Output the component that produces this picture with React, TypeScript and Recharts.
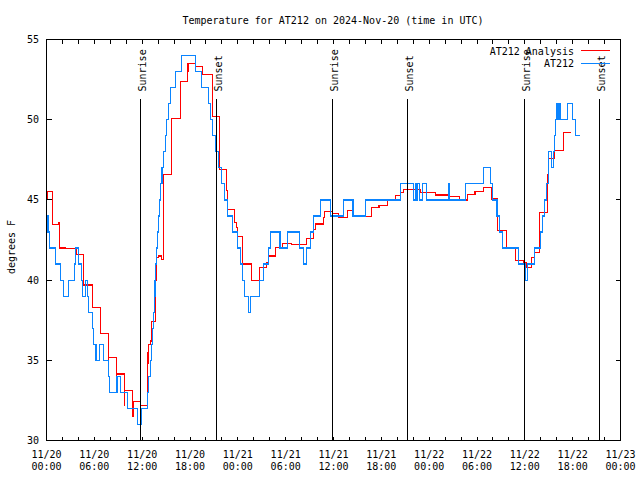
import React from "react";
import {
  LineChart,
  Line,
  XAxis,
  YAxis,
  ReferenceArea,
  ReferenceLine,
  ReferenceDot,
  Legend,
} from "recharts";

// hours since 2024-11-20 00:00 UTC
const anaHours = [
  0, 0.1, 0.72, 1.54, 1.62, 2.38, 3.76, 4.68, 5.73, 6.77, 7.74, 7.78, 8.74, 8.78,
  9.78, 9.82, 10.83, 10.87, 11.79, 11.83, 12.63, 12.72, 12.76, 13.05, 13.17, 13.67,
  13.76, 14.0, 14.38, 14.72, 15.72, 16.78, 17.7, 17.76, 18.69, 19.6, 20.78, 21.74,
  22.58, 22.66, 23.62, 23.8, 24.0, 24.62, 25.69, 26.68, 27.6, 27.81, 28.73, 29.65,
  30.7, 32.61, 33.53, 33.74, 34.7, 34.87, 35.83, 36.67, 37.72, 38.55, 39.8, 40.8,
  41.7, 42.77, 43.78, 44.4, 44.82, 46.9, 48.8, 50.6, 51.8, 52.77, 53.75, 54.82,
  55.8, 56.62, 57.7, 58.83, 59.79, 60.17, 60.8, 61.21, 61.86, 62.8, 62.93, 63.72,
  64.8, 65.82,
];
const anaTemps = [
  45.1, 45.5, 43.45, 43.6, 42.0, 41.95, 41.6, 39.7, 38.3, 36.65, 34.6, 35.15, 33.5, 34.15,
  32.2, 33.1, 31.5, 32.45, 31.5, 32.2, 35.5, 34.8, 36.0, 36.2, 37.4, 40.0,
  41.4, 41.5, 41.3, 46.6, 50.05, 52.4, 53.0, 53.5, 53.3, 52.8, 50.2, 46.9,
  45.6, 44.4, 43.6, 43.3, 42.7, 41.0, 40.0, 40.8, 41.1, 41.5, 42.05, 42.3,
  42.2, 42.6, 43.15, 43.5, 43.9, 44.3, 44.15, 43.9, 44.35, 44.0, 43.95, 44.55,
  44.65, 45.0, 45.25, 45.45, 45.65, 45.45, 45.3, 45.2, 45.0, 45.35, 45.5, 45.75,
  45.05, 43.1, 42.05, 41.2, 41.1, 40.8, 41.4, 41.7, 44.2, 46.6, 47.6, 48.1,
  49.2, 49.2,
];

const obsHours = [
  0, 0.2, 0.42, 1.13, 1.76, 2.17, 2.72, 3.51, 3.68, 4.01, 4.39, 4.56, 4.89, 5.18,
  5.31, 5.73, 5.94, 6.2, 6.62, 7.19, 7.75, 7.94, 8.85, 9.25, 10.2, 11.4, 11.92,
  12.63, 12.8, 13.0, 13.15, 13.3, 13.4, 13.5, 13.6, 13.7, 13.8, 13.9, 14.0, 14.15,
  14.3, 14.5, 14.7, 14.93, 15.1, 15.35, 15.6, 16.15, 16.95, 18.69, 19.44, 20.36,
  20.6, 20.85, 21.2, 21.62, 21.91, 22.33, 22.66, 23.37, 23.92, 24.34, 24.55, 24.8,
  25.38, 25.59, 26.7, 27.2, 27.85, 28.1, 29.3, 30.22, 31.77, 32.27, 32.65, 33.1,
  33.53, 34.37, 35.62, 37.25, 38.45, 39.97, 44.4, 46.0, 46.29, 46.36, 46.58, 46.75,
  47.13, 47.63, 50.47, 50.55, 52.56, 54.85, 55.65, 55.9, 56.5, 56.86, 57.24, 59.17,
  60.05, 60.37, 61.21, 61.97, 62.26, 62.51, 62.72, 62.93, 63.35, 63.64, 63.72, 63.85,
  63.97, 64.1, 64.2, 64.3, 64.4, 64.47, 65.4, 65.94, 66.36, 66.9,
];
const obsTemps = [
  44, 43, 42, 41, 40, 39, 40, 41, 42, 41, 40, 39, 40, 39,
  38, 37, 36, 35, 36, 35, 34, 33, 34, 33, 32, 31, 32,
  33, 34, 35, 36, 37, 38, 39, 40, 41, 42, 43, 44, 45,
  46, 47, 48, 49, 50, 51, 52, 53, 54, 53, 52, 51,
  50, 49, 48, 47, 46, 45, 44, 43, 42, 41, 40, 39,
  38, 39, 40, 41, 42, 43, 42, 43, 42, 41, 42, 43,
  44, 45, 44, 45, 44, 45, 46, 45, 46, 45, 46, 45,
  46, 45, 46, 45, 46, 47, 46, 45, 44, 43, 42, 41,
  40, 41, 42, 43, 44, 45, 46, 48, 47, 48, 49, 50,
  51, 50, 51, 50, 51, 50, 51, 50, 49, 49,
];

const sunHours = [11.83, 21.37, 35.92, 45.33, 60.0, 69.4];
const sunLabels = ["Sunrise", "Sunset", "Sunrise", "Sunset", "Sunrise", "Sunset"];

const xTicks = [
  0, 2, 4, 6, 8, 10, 12, 14, 16, 18, 20, 22, 24, 26, 28, 30, 32, 34, 36,
  38, 40, 42, 44, 46, 48, 50, 52, 54, 56, 58, 60, 62, 64, 66, 68, 70, 72,
];
const labelHours = [0, 6, 12, 18, 24, 30, 36, 42, 48, 54, 60, 66, 72];
const labelDates = [
  "11/20", "11/20", "11/20", "11/20", "11/21", "11/21", "11/21",
  "11/21", "11/22", "11/22", "11/22", "11/22", "11/23",
];
const labelTimes = [
  "00:00", "06:00", "12:00", "18:00", "00:00", "06:00", "12:00",
  "18:00", "00:00", "06:00", "12:00", "18:00", "00:00",
];
const yTicks = [30, 35, 40, 45, 50, 55];
const seriesNames = ["AT212 Analysis", "AT212"];

const FONT = "'DejaVu Sans Mono', monospace";
const TOP = 39.5;
const BOTTOM = 440.5;
const LEFT = 46.5;
const RIGHT = 620.5;

const anaData = anaHours.map((h, i) => ({ h, t: anaTemps[i] }));
const obsData = obsHours.map((h, i) => ({ h, t: obsTemps[i] }));

function XTick(props: any) {
  const { x, payload } = props;
  const i = labelHours.indexOf(payload.value);
  return (
    <g>
      <line x1={x} x2={x} y1={BOTTOM} y2={BOTTOM - 4} stroke="#000" shapeRendering="crispEdges" />
      <line x1={x} x2={x} y1={TOP} y2={TOP + 4} stroke="#000" shapeRendering="crispEdges" />
      {i >= 0 && (
        <text fontFamily={FONT} fontSize={10} fill="#000" textAnchor="middle">
          <tspan x={x} y={458}>{labelDates[i]}</tspan>
          <tspan x={x} y={470}>{labelTimes[i]}</tspan>
        </text>
      )}
    </g>
  );
}

function YTick(props: any) {
  const { y, payload } = props;
  return (
    <g>
      <line x1={LEFT} x2={LEFT + 5} y1={y} y2={y} stroke="#000" shapeRendering="crispEdges" />
      <line x1={RIGHT} x2={RIGHT - 5} y1={y} y2={y} stroke="#000" shapeRendering="crispEdges" />
      <text x={39} y={y + 3.5} fontFamily={FONT} fontSize={10} fill="#000" textAnchor="end">
        {payload.value}
      </text>
    </g>
  );
}

function LegendBox(props: any) {
  const items = [...(props.payload || [])].sort(
    (a: any, b: any) => seriesNames.indexOf(a.value) - seriesNames.indexOf(b.value)
  );
  return (
    <svg width={640} height={80}>
      {items.map((it: any, i: number) => {
        const y = 50.5 + i * 12.5;
        return (
          <g key={it.value}>
            <text x={574} y={y + 4} fontFamily={FONT} fontSize={10} fill="#000" textAnchor="end">
              {it.value}
            </text>
            <line x1={581} x2={610} y1={y} y2={y} stroke={it.color} strokeWidth={1} shapeRendering="crispEdges" />
          </g>
        );
      })}
    </svg>
  );
}

export default function App() {
  return (
    <div style={{ position: "absolute", left: 0, top: 0, width: 640, height: 480, background: "#fff" }}>
      <LineChart width={640} height={480} margin={{ top: TOP, right: 19.5, bottom: 0, left: 0.5 }}>
        <XAxis
          dataKey="h"
          type="number"
          domain={[0, 72]}
          ticks={xTicks}
          interval={0}
          height={39.5}
          axisLine={false}
          tickLine={false}
          tickSize={0}
          tickMargin={0}
          tick={<XTick />}
        />
        <YAxis
          type="number"
          domain={[30, 55]}
          ticks={yTicks}
          interval={0}
          width={46}
          axisLine={false}
          tickLine={false}
          tickSize={0}
          tickMargin={0}
          tick={<YTick />}
        />
        <ReferenceArea
          x1={0}
          x2={72}
          y1={30}
          y2={55}
          fill="none"
          stroke="#000"
          strokeWidth={1}
          fillOpacity={0}
          shapeRendering="crispEdges"
          ifOverflow="visible"
        />
        <Line
          data={anaData}
          dataKey="t"
          name={seriesNames[0]}
          type="stepAfter"
          stroke="#ff0000"
          strokeWidth={1.2}
          shapeRendering="crispEdges"
          dot={false}
          activeDot={false}
          isAnimationActive={false}
        />
        <Line
          data={obsData}
          dataKey="t"
          name={seriesNames[1]}
          type="stepAfter"
          stroke="#0a84ff"
          strokeWidth={1.2}
          shapeRendering="crispEdges"
          dot={false}
          activeDot={false}
          isAnimationActive={false}
        />
        {sunHours.map((h) => (
          <ReferenceLine
            key={"l" + h}
            segment={[{ x: h, y: 51.32 }, { x: h, y: 30 }]}
            stroke="#000"
            strokeWidth={1}
            shapeRendering="crispEdges"
          />
        ))}
        {sunHours.map((h, i) => (
          <ReferenceDot
            key={"d" + h}
            x={h}
            y={51.76}
            r={0}
            shape={(p: any) => (
              <text
                x={p.cx + 5}
                y={p.cy}
                transform={`rotate(-90 ${p.cx + 5} ${p.cy})`}
                fontFamily={FONT}
                fontSize={10}
                fill="#000"
                textAnchor="start"
              >
                {sunLabels[i]}
              </text>
            )}
          />
        ))}
        <Legend
          layout="vertical"
          align="center"
          verticalAlign="middle"
          wrapperStyle={{ position: "absolute", top: 0, left: 0, width: 640, height: 80 }}
          content={<LegendBox />}
        />
      </LineChart>
      <svg width={640} height={480} style={{ position: "absolute", left: 0, top: 0, pointerEvents: "none" }}>
        <text x={333} y={24} fontFamily={FONT} fontSize={10} fill="#000" textAnchor="middle">
          Temperature for AT212 on 2024-Nov-20 (time in UTC)
        </text>
        <text
          x={15}
          y={247}
          transform="rotate(-90 15 247)"
          fontFamily={FONT}
          fontSize={10}
          fill="#000"
          textAnchor="middle"
        >
          degrees F
        </text>
      </svg>
    </div>
  );
}
